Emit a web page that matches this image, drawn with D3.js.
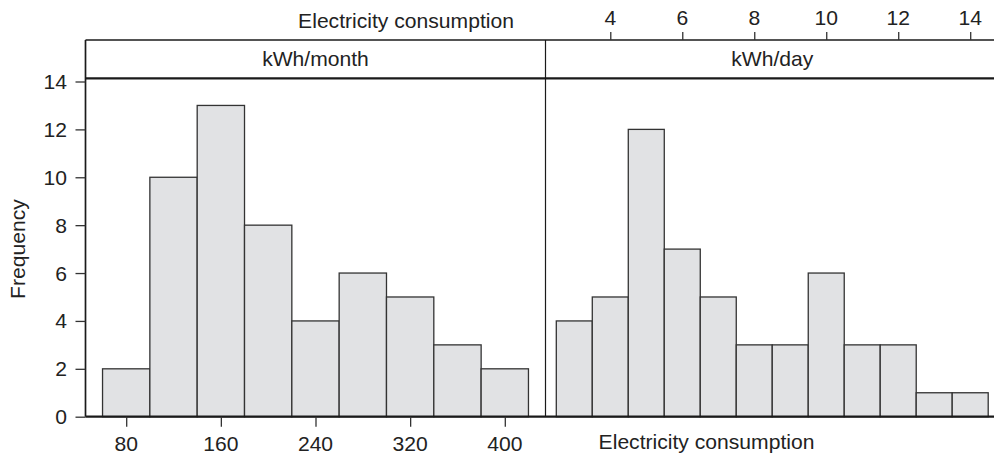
<!DOCTYPE html>
<html>
<head>
<meta charset="utf-8">
<script src="https://cdn.jsdelivr.net/npm/d3@7"></script>
<style>
  body { margin: 0; background: #fff; }
  svg { display: block; }
  text { font-family: "Liberation Sans", Arial, sans-serif; fill: #222; }
</style>
</head>
<body>
<svg id="chart"></svg>
<script>
const WIDTH = 994;
const HEIGHT = 458;

// histogram bins (kWh/month) and counts
const monthBreaks = [60, 100, 140, 180, 220, 260, 300, 340, 380, 420];
const monthCounts = [2, 10, 13, 8, 4, 6, 5, 3, 2];

// histogram bins (kWh/day) and counts
const dayBreaks = [2.5, 3.5, 4.5, 5.5, 6.5, 7.5, 8.5, 9.5, 10.5, 11.5, 12.5, 13.5, 14.5];
const dayCounts = [4, 5, 12, 7, 5, 3, 3, 6, 3, 3, 1, 1];

const monthTicks = [80, 160, 240, 320, 400];
const dayTicks = [4, 6, 8, 10, 12, 14];
const freqTicks = [0, 2, 4, 6, 8, 10, 12, 14];

const stripLabels = ["kWh/month", "kWh/day"];
const xLabel = "Electricity consumption";
const yLabel = "Frequency";

const FONT = 20.5;
const STRETCH = 1.03;

function toBins(breaks, counts) {
    return counts.map((c, i) => ({ x0: breaks[i], x1: breaks[i + 1], count: c }));
}

document.addEventListener("DOMContentLoaded", function() {
    const svg = d3.select("#chart")
        .attr("width", WIDTH)
        .attr("height", HEIGHT);

    const frameTop = 40;
    const stripBottom = 78.3;
    const left = 85.5;
    const mid = 545.5;
    const right = 999;

    const y = d3.scaleLinear().domain([0, 14]).range([416.7, 81.5]);
    const base = y(0);

    const xMonth = d3.scaleLinear().domain([45.6, 434.4]).range([left, mid]);
    const xDay = d3.scaleLinear().domain([2.2, 14.8]).range([mid, right]);

    // text helper, slightly widened to match the reference face
    function label(g, x, yy, str, anchor, extra) {
        return g.append("g")
            .attr("transform", `translate(${x},${yy})${extra || ""} scale(${STRETCH},1)`)
            .append("text")
            .attr("text-anchor", anchor)
            .attr("font-size", FONT)
            .text(str);
    }

    const barStyle = sel => sel
        .attr("fill", "#e1e2e4")
        .attr("stroke", "#333")
        .attr("stroke-width", 1.3);

    // bars
    svg.append("g").selectAll("rect")
        .data(toBins(monthBreaks, monthCounts))
        .join("rect")
        .attr("x", d => xMonth(d.x0))
        .attr("width", d => xMonth(d.x1) - xMonth(d.x0))
        .attr("y", d => y(d.count))
        .attr("height", d => base - y(d.count))
        .call(barStyle);

    svg.append("g").selectAll("rect")
        .data(toBins(dayBreaks, dayCounts))
        .join("rect")
        .attr("x", d => xDay(d.x0))
        .attr("width", d => xDay(d.x1) - xDay(d.x0))
        .attr("y", d => y(d.count))
        .attr("height", d => base - y(d.count))
        .call(barStyle);

    // frame
    const line = (x1, y1, x2, y2, w) => svg.append("line")
        .attr("x1", x1).attr("y1", y1).attr("x2", x2).attr("y2", y2)
        .attr("stroke", "#1a1a1a").attr("stroke-width", w);

    line(left, frameTop, right, frameTop, 1.4);
    line(left, stripBottom, right, stripBottom, 2.2);
    line(left, frameTop, left, base, 1.7);
    line(mid, frameTop, mid, base, 1.2);
    line(right, frameTop, right, base, 1.2);
    line(left, base, right, base, 2.2);

    // strip labels
    label(svg, (left + mid) / 2, 65.5, stripLabels[0], "middle");
    label(svg, (mid + right) / 2, 65.5, stripLabels[1], "middle");

    // axes
    const tickStyle = g => {
        g.select(".domain").remove();
        g.selectAll(".tick line").attr("stroke", "#333").attr("stroke-width", 1.3);
        g.selectAll(".tick text").remove();
    };

    svg.append("g")
        .attr("transform", `translate(0,${base})`)
        .call(d3.axisBottom(xMonth).tickValues(monthTicks).tickSize(10))
        .call(tickStyle);
    monthTicks.forEach(v => label(svg, xMonth(v), 451, String(v), "middle"));

    svg.append("g")
        .attr("transform", `translate(0,${frameTop})`)
        .call(d3.axisTop(xDay).tickValues(dayTicks).tickSize(8))
        .call(tickStyle);
    dayTicks.forEach(v => label(svg, xDay(v), 25, String(v), "middle"));

    svg.append("g")
        .attr("transform", `translate(${left},0)`)
        .call(d3.axisLeft(y).tickValues(freqTicks).tickSize(10))
        .call(tickStyle);
    freqTicks.forEach(v => label(svg, 67, y(v) + 7.5, String(v), "end"));

    // axis titles
    label(svg, 406, 28, xLabel, "middle");
    label(svg, 706.5, 448.5, xLabel, "middle");
    label(svg, 25, (y(0) + y(14)) / 2, yLabel, "middle", " rotate(-90)");
});
</script>
</body>
</html>
